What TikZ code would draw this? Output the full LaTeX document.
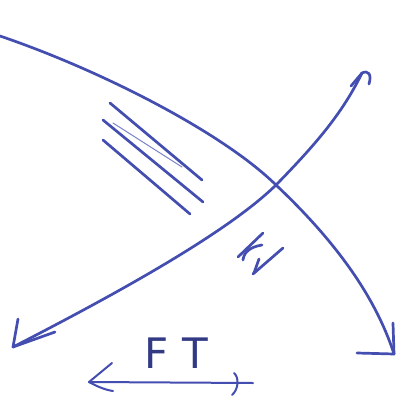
\documentclass[tikz,border=0pt]{standalone}
\usepackage{fontspec}
\setsansfont{DejaVu Sans}
\begin{document}
\begin{tikzpicture}[x=1pt,y=-1pt,
  pen/.style={draw=inkblue,line width=2.7pt,line cap=round,line join=round},
  thinpen/.style={draw=inkblue!70,line width=1pt,line cap=round}]
\definecolor{inkblue}{RGB}{68,78,176}
\useasboundingbox (0,0) rectangle (399,402);
\fill[white] (0,0) rectangle (399,402);
% named points
\coordinate (a1s) at (0,36);
\coordinate (x) at (276,185);
\coordinate (a1e) at (394,354);
\coordinate (a2s) at (13,347);
\coordinate (a2e) at (362,73);
% curve 1: top-left to bottom-right
\draw[pen] (a1s) .. controls (100,70) and (222,132) .. (x)
  .. controls (330,236) and (374,292) .. (a1e);
\draw[pen] (a1e) -- (357,353);
\draw[pen] (a1e) -- (393,323);
% curve 2: bottom-left to top-right
\draw[pen] (a2s) .. controls (120,292) and (228,232) .. (x)
  .. controls (318,142) and (343,112) .. (a2e);
\draw[pen] (a2e) .. controls (368,70) and (372,74) .. (369,84);
\draw[pen] (a2e) -- (351,86);
% bottom-left arrow head
\draw[pen] (a2s) -- (18,319);
\draw[pen] (a2s) -- (55,332);
% parallel marks
\draw[pen] (110,103) -- (202,180);
\draw[pen] (103,120) -- (203,202);
\draw[thinpen] (113,123) -- (182,167);
\draw[pen] (103,140) -- (190,214);
% small mark
\draw[pen] (263,233) -- (238,257);
\draw[pen] (262,245) .. controls (250,247) and (244,252) .. (243,260);
\draw[pen] (283,248) -- (253,274);
\draw[pen] (259,259) -- (254,273);
% FT label with double arrow
\node[text=inkblue!75!black,font=\sffamily\fontsize{42}{42}\selectfont,inner sep=0pt,anchor=base west] (ft) at (144,368) {F\hspace{14pt}T};
\coordinate (l) at (89,382);
\coordinate (r) at (253,383);
\draw[pen,line width=2pt] (l) -- (r);
\draw[pen,line width=2pt] (l) -- (112,363);
\draw[pen,line width=2pt] (l) .. controls (98,387) and (106,390) .. (113,391);
\draw[pen,line width=2pt] (234,373) .. controls (239,377) and (239,389) .. (232,395);
\end{tikzpicture}
\end{document}
